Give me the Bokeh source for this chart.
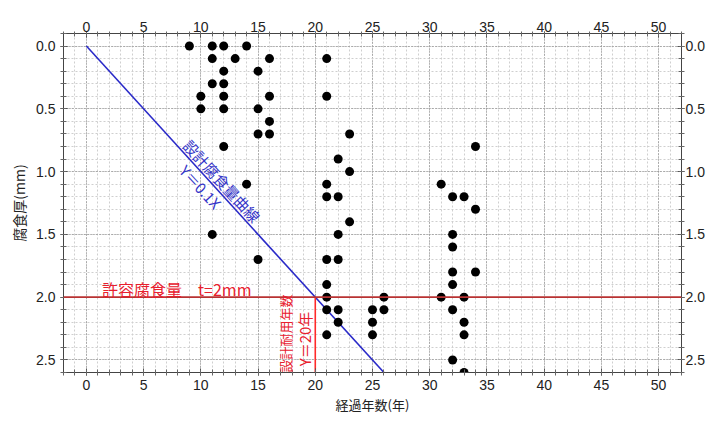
import math
from bokeh.plotting import figure
from bokeh.models import LinearAxis, FixedTicker, Range1d, Label, Span, Title
from bokeh.embed import file_html
from bokeh.resources import INLINE

# ---- data ----
years = [9, 11, 12, 14,
         11, 13, 16, 21,
         12, 15,
         11, 12,
         10, 12, 16, 21,
         10, 12, 15,
         16,
         15, 16, 23,
         12, 34,
         22,
         23,
         14, 21, 31,
         21, 22, 32, 33,
         34,
         23,
         11, 22, 32,
         32,
         15, 21, 22,
         32, 34,
         21, 32,
         21, 26, 31, 33,
         21, 22, 25, 26, 32,
         22, 25, 33,
         21, 25, 33,
         32,
         33]
depth = [0.0, 0.0, 0.0, 0.0,
         0.1, 0.1, 0.1, 0.1,
         0.2, 0.2,
         0.3, 0.3,
         0.4, 0.4, 0.4, 0.4,
         0.5, 0.5, 0.5,
         0.6,
         0.7, 0.7, 0.7,
         0.8, 0.8,
         0.9,
         1.0,
         1.1, 1.1, 1.1,
         1.2, 1.2, 1.2, 1.2,
         1.3,
         1.4,
         1.5, 1.5, 1.5,
         1.6,
         1.7, 1.7, 1.7,
         1.8, 1.8,
         1.9, 1.9,
         2.0, 2.0, 2.0, 2.0,
         2.1, 2.1, 2.1, 2.1, 2.1,
         2.2, 2.2, 2.2,
         2.3, 2.3, 2.3,
         2.5,
         2.6]

curve_x = [0, 26]            # design corrosion curve Y = 0.1X
curve_y = [0.0, 2.6]
allowable = 2.0              # 許容腐食量 t=2mm
design_life = 20             # 設計耐用年数 Y=20年

x_ticks = [0, 5, 10, 15, 20, 25, 30, 35, 40, 45, 50]
x_minor = list(range(-2, 53))
y_ticks = [0.0, 0.5, 1.0, 1.5, 2.0, 2.5]
y_tick_labels = ["0.0", "0.5", "1.0", "1.5", "2.0", "2.5"]
y_minor = [-0.1, 0.0, 0.1, 0.2, 0.3, 0.4, 0.5, 0.6, 0.7, 0.8, 0.9, 1.0, 1.1, 1.2, 1.3,
           1.4, 1.5, 1.6, 1.7, 1.8, 1.9, 2.0, 2.1, 2.2, 2.3, 2.4, 2.5, 2.6]

x_title = "経過年数(年)"
y_title = "腐食厚(mm)"
curve_title = "設計腐食量曲線"
curve_eq = "Y＝0.1X"
allow_title = "許容腐食量　t=2mm"
life_title = "設計耐用年数"
life_eq = "Y＝20年"

JP = "Noto Sans CJK JP"
NUM = "Liberation Sans"

p = figure(width=713, height=421,
           x_range=Range1d(-2, 52), y_range=Range1d(2.6, -0.1),
           output_backend="svg", toolbar_location=None,
           min_border_left=63, min_border_right=32,
           min_border_top=33, min_border_bottom=49)
p.background_fill_color = "white"
p.border_fill_color = "white"
p.outline_line_color = "#444444"

xt = FixedTicker(ticks=x_ticks, minor_ticks=x_minor)
yt = FixedTicker(ticks=y_ticks, minor_ticks=y_minor)
overrides = {t: l for t, l in zip(y_ticks, y_tick_labels)}

p.add_layout(LinearAxis(), "above")
p.add_layout(LinearAxis(), "right")

for ax in p.xaxis:
    ax.ticker = xt
for ax in p.yaxis:
    ax.ticker = yt
    ax.major_label_overrides = overrides
for ax in p.axis:
    ax.major_label_text_font = NUM
    ax.major_label_text_font_size = "14px"
    ax.major_label_text_color = "#222222"
    ax.axis_line_color = "#444444"
    ax.major_tick_line_color = "#444444"
    ax.minor_tick_line_color = "#666666"
    ax.major_tick_in = 4
    ax.major_tick_out = 3
    ax.minor_tick_in = 3
    ax.minor_tick_out = 3
    ax.major_label_standoff = 1

p.left[0].major_label_standoff = 5
p.below[0].major_label_standoff = 4
p.above[0].major_label_standoff = 0
p.above[0].major_tick_out = 2
p.above[0].minor_tick_out = 2

p.below[0].axis_label = x_title
p.below[0].axis_label_text_font = JP
p.below[0].axis_label_text_font_size = "13px"
p.below[0].axis_label_text_font_style = "normal"
p.below[0].axis_label_text_color = "#222222"
p.below[0].axis_label_standoff = 2

p.add_layout(Title(text=y_title, align="center", offset=-17,
                   text_font=JP, text_font_size="14px",
                   text_font_style="normal", text_color="#222222"), "left")

for g, t in ((p.xgrid, xt), (p.ygrid, yt)):
    g.ticker = t
    g.grid_line_color = "#808080"
    g.grid_line_dash = "1 2"
    g.grid_line_width = 1
    g.minor_grid_line_color = "#cfcfcf"
    g.minor_grid_line_dash = "2 2"
    g.minor_grid_line_width = 1

# design curve
p.line(curve_x, curve_y, line_color="#2a2ac8", line_width=1.6)
# allowable corrosion
p.add_layout(Span(location=allowable, dimension="width",
                  line_color="#b83232", line_width=1.6))
# design life
p.line([design_life, design_life], [allowable, 2.6],
       line_color="#ff2a2a", line_width=1.6)

# data points
p.scatter(years, depth, size=9, fill_color="black", line_color=None)

ang = -math.atan(12.5 / 11.46)
p.add_layout(Label(x=11.85, y=1.075, text=curve_title, angle=ang,
                   text_align="center", text_baseline="middle",
                   text_font=JP, text_font_size="15px", text_color="#3434c8"))
p.add_layout(Label(x=10.0, y=1.12, text=curve_eq, angle=ang,
                   text_align="center", text_baseline="middle",
                   text_font=JP, text_font_size="15px", text_color="#3434c8"))
p.add_layout(Label(x=1.37, y=1.933, text=allow_title,
                   text_align="left", text_baseline="middle",
                   text_font=JP, text_font_size="16px", text_color="#e8202e"))
p.add_layout(Label(x=17.43, y=2.29, text=life_title, angle=math.pi / 2,
                   text_align="center", text_baseline="middle",
                   text_font=JP, text_font_size="13px", text_color="#e8202e"))
p.add_layout(Label(x=19.04, y=2.333, text=life_eq, angle=math.pi / 2,
                   text_align="center", text_baseline="middle",
                   text_font=JP, text_font_size="15px", text_color="#e8202e"))

open("out.html", "w").write(file_html(p, INLINE))
